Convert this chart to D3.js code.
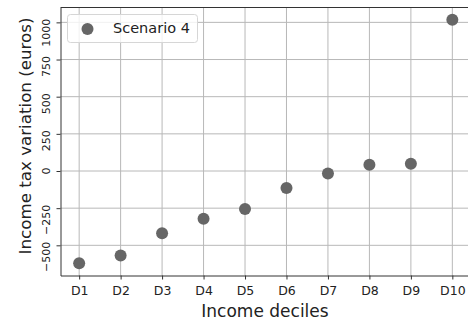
<!DOCTYPE html>
<html>
<head>
<meta charset="utf-8">
<script src="https://cdn.jsdelivr.net/npm/d3@7"></script>
<style>
  html, body { margin: 0; padding: 0; background: #fff; }
  svg { display: block; font-family: "DejaVu Sans", sans-serif; }
</style>
</head>
<body>
<svg id="chart" width="468" height="323"></svg>
<script>
// Income tax variation per income decile
const deciles = ["D1", "D2", "D3", "D4", "D5", "D6", "D7", "D8", "D9", "D10"];
const taxVariation = [-621, -569, -418, -321, -255, -114, -16, 42, 49, 1018];
const yTicks = [-500, -250, 0, 250, 500, 750, 1000];
const seriesName = "Scenario 4";

const svg = d3.select("#chart");
const plotLeft = 60.5, plotRight = 471, plotTop = 7.5, plotBottom = 275.5;

const x = d3.scaleLinear().domain([-0.45, 9.45]).range([plotLeft, plotRight]);
const yMin = -703, yMax = 1100;
const y = d3.scaleLinear().domain([yMin, yMax]).range([plotBottom, plotTop]);

// grid
const grid = svg.append("g").attr("stroke", "#b8b8b8").attr("stroke-width", 1);
grid.selectAll("line.v").data(deciles).join("line")
  .attr("class", "v")
  .attr("x1", (d, i) => x(i)).attr("x2", (d, i) => x(i))
  .attr("y1", plotTop).attr("y2", plotBottom);
grid.selectAll("line.h").data(yTicks).join("line")
  .attr("class", "h")
  .attr("x1", plotLeft).attr("x2", plotRight)
  .attr("y1", d => y(d)).attr("y2", d => y(d));

// points
svg.append("g").selectAll("circle").data(taxVariation).join("circle")
  .attr("cx", (d, i) => x(i)).attr("cy", d => y(d))
  .attr("r", 6).attr("fill", "#666666");

// axes
const xAxis = d3.axisBottom(x).tickValues(d3.range(deciles.length))
  .tickFormat(i => deciles[i]).tickSize(4).tickSizeOuter(0).tickPadding(7);
const gx = svg.append("g").attr("transform", `translate(0,${plotBottom})`).call(xAxis);
gx.select(".domain").attr("stroke", "#333");
gx.selectAll(".tick line").attr("stroke", "#333");
gx.selectAll(".tick text").attr("font-size", 12.5).attr("fill", "#222")
  .attr("font-family", "DejaVu Sans, sans-serif");

const yAxis = d3.axisLeft(y).tickValues(yTicks)
  .tickFormat(d => d < 0 ? "\u2212" + Math.abs(d) : String(d))
  .tickSize(4).tickSizeOuter(0);
const gy = svg.append("g").attr("transform", `translate(${plotLeft},0)`).call(yAxis);
gy.select(".domain").attr("stroke", "#333");
gy.selectAll(".tick line").attr("stroke", "#333");
// vertical labels: text end sits just above its tick, running downward
gy.selectAll(".tick text")
  .attr("font-size", 11).attr("fill", "#222")
  .attr("font-family", "DejaVu Sans, sans-serif")
  .attr("x", null).attr("dy", null)
  .attr("text-anchor", "end")
  .attr("transform", "translate(-11,-4) rotate(-90)");

// top spine
svg.append("line").attr("x1", plotLeft).attr("x2", plotRight)
  .attr("y1", plotTop).attr("y2", plotTop).attr("stroke", "#333");

// axis titles
svg.append("text").attr("x", 265).attr("y", 316.5)
  .attr("text-anchor", "middle").attr("font-size", 17).attr("fill", "#222")
  .text("Income deciles");
svg.append("text")
  .attr("transform", "translate(31,136) rotate(-90)")
  .attr("text-anchor", "middle").attr("font-size", 16.7).attr("fill", "#222")
  .text("Income tax variation (euros)");

// legend
const lg = svg.append("g");
lg.append("rect").attr("x", 67.5).attr("y", 14.5).attr("width", 130).attr("height", 28)
  .attr("rx", 3).attr("fill", "#fff").attr("fill-opacity", 0.8)
  .attr("stroke", "#d6d6d6");
lg.append("circle").attr("cx", 87.5).attr("cy", 29).attr("r", 6).attr("fill", "#666666");
lg.append("text").attr("x", 113).attr("y", 33).attr("font-size", 14.5).attr("fill", "#222")
  .text(seriesName);
</script>
</body>
</html>
